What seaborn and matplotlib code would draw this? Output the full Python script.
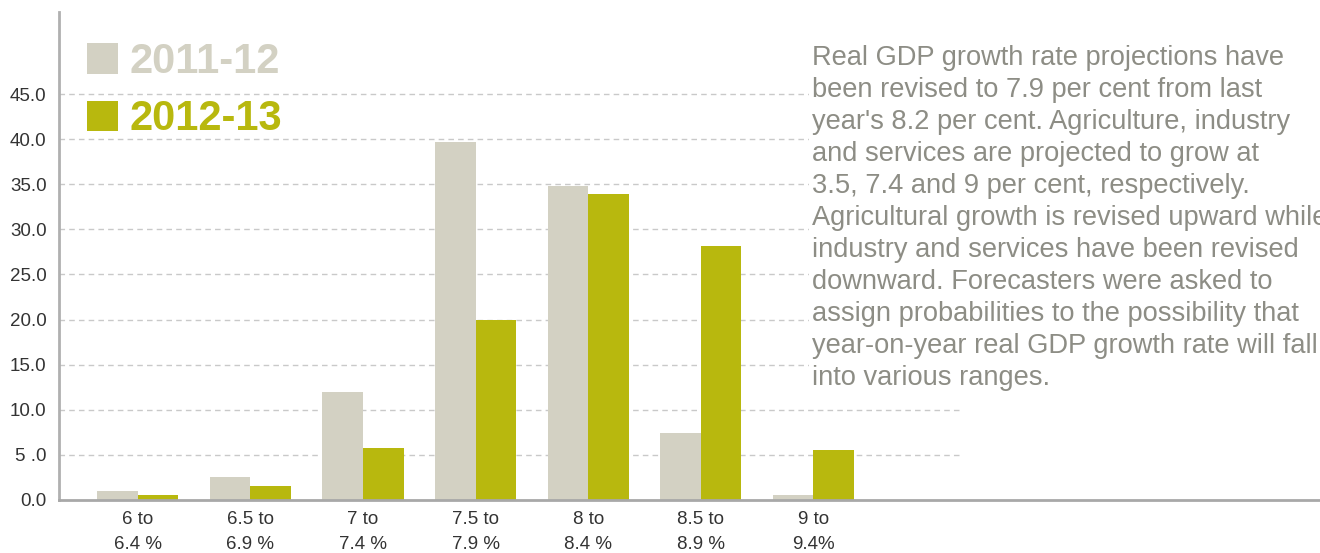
import matplotlib
matplotlib.use("Agg")
import matplotlib.pyplot as plt
import seaborn as sns
import pandas as pd
from matplotlib.patches import Patch
from matplotlib.ticker import FixedLocator

categories = ["6 to\n6.4 %", "6.5 to\n6.9 %", "7 to\n7.4 %", "7.5 to\n7.9 %",
              "8 to\n8.4 %", "8.5 to\n8.9 %", "9 to\n9.4%"]
series_names = ["2011-12", "2012-13"]
values_2011 = [1.0, 2.5, 12.0, 39.7, 34.8, 7.4, 0.5]
values_2012 = [0.5, 1.5, 5.8, 20.0, 33.9, 28.2, 5.5]
ytick_values = [0, 5, 10, 15, 20, 25, 30, 35, 40, 45]
ytick_labels = ["0.0", "5 .0", "10.0", "15.0", "20.0", "25.0", "30.0", "35.0", "40.0", "45.0"]
note = ("Real GDP growth rate projections have\n"
        "been revised to 7.9 per cent from last\n"
        "year's 8.2 per cent. Agriculture, industry\n"
        "and services are projected to grow at\n"
        "3.5, 7.4 and 9 per cent, respectively.\n"
        "Agricultural growth is revised upward while\n"
        "industry and services have been revised\n"
        "downward. Forecasters were asked to\n"
        "assign probabilities to the possibility that\n"
        "year-on-year real GDP growth rate will fall\n"
        "into various ranges.")

GRAY = "#d3d1c3"
GREEN = "#b8b80e"
palette = {series_names[0]: GRAY, series_names[1]: GREEN}

df = pd.DataFrame({
    "range": categories * 2,
    "year": [series_names[0]] * len(categories) + [series_names[1]] * len(categories),
    "value": values_2011 + values_2012,
})

sns.set_style("white")
plt.rcParams["font.family"] = ["Liberation Sans", "DejaVu Sans"]

fig = plt.figure(figsize=(13.2, 5.53), dpi=100)
ax = fig.add_axes([59 / 1320, 53 / 553, 1 - 59 / 1320, (500 - 12) / 553])

sns.barplot(data=df, x="range", y="value", hue="year", order=categories,
            hue_order=series_names, palette=palette, width=0.72, gap=0,
            saturation=1, ax=ax, legend=False, linewidth=0, zorder=3)

ax.set_xlim(-0.70, 10.5)
ax.set_ylim(0, 54.1)
ax.set_xlabel("")
ax.set_ylabel("")

# gridlines
for v in ytick_values[1:]:
    ax.axhline(v, xmin=0, xmax=0.714, color="#c9c9c9", lw=1.0, ls=(0, (4, 3)), zorder=1)

ax.set_yticks(ytick_values)
ax.set_yticklabels(ytick_labels, fontsize=13.5, color="#333333")
ax.tick_params(axis="y", length=0, pad=9)

ax.set_xticks(range(len(categories)))
ax.set_xticklabels(categories, fontsize=13.5, color="#333333", linespacing=1.6)
ax.tick_params(axis="x", which="major", length=0, pad=8)
ax.xaxis.set_minor_locator(FixedLocator([i + 0.5 for i in range(len(categories) + 1)]))
ax.tick_params(axis="x", which="minor", length=8, width=1.5, color="#a0a0a0")

for s in ["top", "right"]:
    ax.spines[s].set_visible(False)
ax.spines["left"].set_color("#b0b0b0")
ax.spines["left"].set_linewidth(2)
ax.spines["bottom"].set_color("#a8a8a8")
ax.spines["bottom"].set_linewidth(2)
ax.spines["bottom"].set_zorder(4)

# legend
handles = [Patch(facecolor=palette[n], edgecolor="none", label=n) for n in series_names]
leg = fig.legend(handles=handles, loc="upper left", bbox_to_anchor=(87 / 1320, 1 - 42 / 553),
                 frameon=False, prop={"weight": "bold", "size": 30},
                 handlelength=0.75, handleheight=0.75, handletextpad=0.28,
                 labelspacing=0.42, borderpad=0, borderaxespad=0)
for t, n in zip(leg.get_texts(), series_names):
    t.set_color(palette[n])

# note
fig.text(812 / 1320, 1 - 45 / 553, note, ha="left", va="top", fontsize=19.6,
         color="#8d8d85", linespacing=1.3,
         bbox=dict(facecolor="white", edgecolor="none", pad=2))

fig.savefig("out.png", dpi=100)
